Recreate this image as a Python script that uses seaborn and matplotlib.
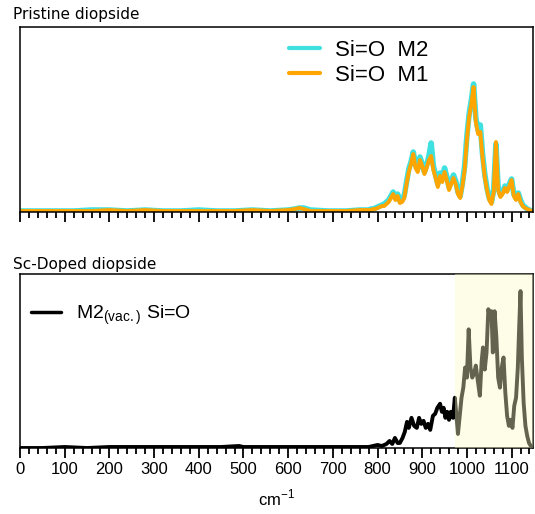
import numpy as np
import matplotlib
matplotlib.use("Agg")
import matplotlib.pyplot as plt
from matplotlib.ticker import MultipleLocator
import seaborn as sns

sns.set_theme(style="ticks")
plt.rcParams["font.family"] = ["Liberation Sans", "DejaVu Sans"]
plt.rcParams["text.color"] = "black"
plt.rcParams["axes.labelcolor"] = "black"
plt.rcParams["xtick.color"] = "black"
plt.rcParams["xtick.labelcolor"] = "black"

# ── data (arbitrary intensity units) ─────────────────────────────────────────
top_x = np.concatenate([
    [0, 40, 80, 120, 160, 200, 240, 280, 320, 360, 400, 440, 480, 520, 560,
     600, 615, 625, 635, 650, 690, 730, 760],
    np.arange(780, 1150, 5),
])
m1_low = [0.01, 0.01, 0.01, 0.01, 0.01, 0.02, 0.01, 0.02, 0.01, 0.01, 0.01, 0.01,
          0.01, 0.02, 0.01, 0.02, 0.03, 0.04, 0.03, 0.01, 0.01, 0.01, 0.02]
m2_low = [0.01, 0.01, 0.01, 0.01, 0.02, 0.02, 0.01, 0.02, 0.01, 0.01, 0.02, 0.01,
          0.01, 0.02, 0.01, 0.02, 0.03, 0.04, 0.04, 0.02, 0.01, 0.01, 0.02]
m1_band = [0.02, 0.02, 0.03, 0.03, 0.04, 0.05, 0.06, 0.06, 0.08, 0.10, 0.14, 0.18,
           0.12, 0.16, 0.09, 0.10, 0.14, 0.28, 0.40, 0.48, 0.58, 0.44, 0.40, 0.52,
           0.46, 0.38, 0.44, 0.52, 0.56, 0.42, 0.34, 0.25, 0.36, 0.30, 0.40, 0.32,
           0.22, 0.28, 0.34, 0.28, 0.18, 0.14, 0.26, 0.42, 0.72, 0.95, 1.08, 1.25,
           0.90, 0.78, 0.80, 0.55, 0.35, 0.22, 0.12, 0.08, 0.20, 0.70, 0.22, 0.15,
           0.18, 0.24, 0.20, 0.26, 0.32, 0.16, 0.12, 0.18, 0.10, 0.06, 0.04, 0.03,
           0.02, 0.01]
m2_band = [0.02, 0.03, 0.03, 0.04, 0.05, 0.06, 0.07, 0.08, 0.10, 0.12, 0.16, 0.20,
           0.14, 0.18, 0.11, 0.12, 0.17, 0.30, 0.43, 0.50, 0.60, 0.47, 0.43, 0.55,
           0.48, 0.40, 0.47, 0.56, 0.69, 0.46, 0.37, 0.28, 0.39, 0.33, 0.44, 0.35,
           0.25, 0.31, 0.37, 0.31, 0.20, 0.16, 0.29, 0.46, 0.76, 0.98, 1.12, 1.28,
           0.94, 0.82, 0.87, 0.58, 0.38, 0.24, 0.14, 0.10, 0.22, 0.68, 0.24, 0.17,
           0.20, 0.26, 0.22, 0.28, 0.33, 0.18, 0.14, 0.19, 0.12, 0.07, 0.05, 0.03,
           0.02, 0.01]
m1 = m1_low + m1_band
m2 = m2_low + m2_band

sc_x = [0, 50, 100, 150, 200, 250, 300, 350, 400, 450, 490, 500, 550, 600, 650,
        700, 750, 780, 790, 800, 810, 820, 827, 833, 839, 845, 850, 856, 861, 866,
        870, 876, 882, 888, 893, 898, 903, 908, 913, 918, 924, 929, 934, 940, 944,
        948, 952, 956, 960, 964, 969, 973, 977, 980, 984, 988, 992, 996, 1000, 1004,
        1008, 1012, 1016, 1020, 1025, 1029, 1033, 1036, 1040, 1044, 1048, 1052, 1055,
        1058, 1062, 1066, 1070, 1074, 1078, 1082, 1086, 1090, 1094, 1098, 1102, 1106,
        1110, 1114, 1117, 1120, 1123, 1127, 1131, 1135, 1139, 1143, 1147]
sc_m2vac = [0.00, 0.00, 0.01, 0.00, 0.01, 0.01, 0.01, 0.01, 0.01, 0.01, 0.02, 0.01,
            0.01, 0.01, 0.01, 0.01, 0.01, 0.01, 0.02, 0.03, 0.02, 0.04, 0.07, 0.04,
            0.10, 0.05, 0.05, 0.10, 0.16, 0.26, 0.20, 0.30, 0.22, 0.20, 0.30, 0.24,
            0.27, 0.20, 0.24, 0.18, 0.32, 0.34, 0.40, 0.44, 0.36, 0.40, 0.30, 0.36,
            0.28, 0.36, 0.30, 0.50, 0.30, 0.14, 0.32, 0.50, 0.60, 0.80, 0.70, 1.18,
            0.80, 0.70, 0.74, 0.82, 0.65, 0.52, 0.86, 1.00, 0.78, 0.95, 1.38, 1.30,
            1.36, 0.95, 1.36, 1.10, 0.70, 0.60, 0.80, 0.90, 0.55, 0.32, 0.22, 0.28,
            0.20, 0.42, 0.50, 0.80, 1.20, 1.56, 0.90, 0.45, 0.22, 0.12, 0.05, 0.02,
            0.01]

XMAX = 1148

fig = plt.figure(figsize=(5.35, 5.14), dpi=100)
ax1 = fig.add_axes([0.0374, 0.5875, 0.9589, 0.3600])
ax2 = fig.add_axes([0.0374, 0.1284, 0.9589, 0.3385])

# ── top: pristine ────────────────────────────────────────────────────────────
sns.lineplot(x=top_x, y=m2, ax=ax1, color="#3ee0e0", lw=4.0, label="Si=O  M2")
sns.lineplot(x=top_x, y=m1, ax=ax1, color="#ffa500", lw=2.8, label="Si=O  M1")
ax1.set_ylim(0, 1.85)
leg1 = ax1.legend(loc="upper left", bbox_to_anchor=(0.485, 1.04), frameon=False,
                  fontsize=16, handlelength=1.4, handletextpad=0.7, labelspacing=0.2)
for h in leg1.get_lines():
    h.set_linewidth(3.0)

# ── bottom: Sc-doped ─────────────────────────────────────────────────────────
sns.lineplot(x=sc_x, y=sc_m2vac, ax=ax2, color="black", lw=2.8,
             label="M2$_{\\mathregular{(vac.)}}$ Si=O")
ax2.axvspan(973, XMAX, color=(0.98, 0.98, 0.78), alpha=0.4, lw=0, zorder=3)
ax2.set_ylim(0, 1.73)
leg2 = ax2.legend(loc="upper left", bbox_to_anchor=(-0.012, 0.93), frameon=False,
                  fontsize=14, handlelength=1.55, handletextpad=0.75)
leg2.set_zorder(5)
for h in leg2.get_lines():
    h.set_linewidth(2.5)

for ax in (ax1, ax2):
    ax.set_xlim(0, XMAX)
    ax.set_yticks([])
    ax.set_ylabel("")
    ax.xaxis.set_major_locator(MultipleLocator(100))
    ax.xaxis.set_minor_locator(MultipleLocator(20))
    ax.tick_params(axis="x", which="major", direction="out", length=7, width=1.3,
                   color="black", labelsize=12, pad=3)
    ax.tick_params(axis="x", which="minor", direction="out", length=4, width=1.3,
                   color="black")
    for s in ax.spines.values():
        s.set_color("black")
        s.set_linewidth(1.1)

ax1.tick_params(axis="x", labelbottom=False)
ax2.set_xlabel("cm$^{\\mathregular{-1}}$", fontsize=12, labelpad=8)

fig.text(0.025, 0.971, "Pristine diopside", fontsize=11, family="DejaVu Sans",
         va="center")
fig.text(0.024, 0.485, "Sc-Doped diopside", fontsize=11, family="DejaVu Sans",
         va="center")

fig.savefig("out.png", dpi=100)
